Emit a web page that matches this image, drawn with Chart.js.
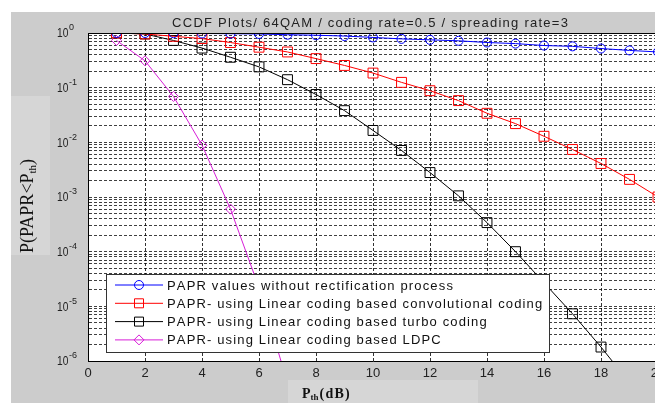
<!DOCTYPE html>
<html>
<head>
<meta charset="utf-8">
<script src="https://cdn.jsdelivr.net/npm/chart.js@4.4.0/dist/chart.umd.min.js"></script>
<style>
    html, body { margin: 0; padding: 0; overflow: hidden; background: #fff; }
    #wrap { width: 680px; height: 403px; }
</style>
</head>
<body>
<div id="wrap"><canvas id="ccdfGraph" width="680" height="403"></canvas></div>
<script>
// Pth (dB) abscisses
const pth = [1, 2, 3, 4, 5, 6, 7, 8, 9, 10, 11, 12, 13, 14, 15, 16, 17, 18, 19, 20];
const pthLdpc = [1, 2, 3, 4, 5, 6, 7];
const pthTurbo = [1, 2, 3, 4, 5, 6, 7, 8, 9, 10, 11, 12, 13, 14, 15, 16, 17, 18, 19];

// valeurs
const paprSansRectif = [1.0, 1.0, 0.99, 0.98, 0.97, 0.96, 0.93, 0.91, 0.88, 0.83, 0.78, 0.75, 0.72, 0.67, 0.64, 0.59, 0.57, 0.52, 0.48, 0.45];
const paprConvolutif = [1.0, 0.96, 0.87, 0.79, 0.67, 0.55, 0.45, 0.34, 0.255, 0.185, 0.125, 0.088, 0.058, 0.034, 0.022, 0.0129, 0.0074, 0.0041, 0.0021, 0.001];
const paprTurbo = [1.0, 0.96, 0.73, 0.53, 0.36, 0.24, 0.14, 0.075, 0.038, 0.0165, 0.0071, 0.0028, 0.00105, 0.00034, 0.0001, 0.000027, 0.0000073, 0.0000018, 0.0000004];
const paprLdpc = [0.73, 0.31, 0.069, 0.0089, 0.0006, 0.000022, 0.0000004];

const titre = 'CCDF Plots/ 64QAM / coding rate=0.5 / spreading rate=3';
const legendLabels = [
    'PAPR values without rectification process',
    'PAPR- using Linear coding based convolutional coding',
    'PAPR- using Linear coding based turbo coding',
    'PAPR- using Linear coding based LDPC'
];

// graduations
const xTicks = [0, 2, 4, 6, 8, 10, 12, 14, 16, 18, 20];
const yTickExps = [0, -1, -2, -3, -4, -5, -6];
const yGrid = [];
yTickExps.forEach(e => {
    for (let m = 1; m <= 9; m++) {
        const v = m * Math.pow(10, e);
        if (v <= 1) yGrid.push(v);
    }
});

const serie = (xs, ys) => xs.map((x, i) => ({ x: x, y: ys[i] }));

// texte espacé (le rendu matlab est plus large)
function texteEspace(ctx, txt, x, y, esp) {
    let cx = x;
    for (const c of txt) {
        ctx.fillText(c, cx, y);
        cx += ctx.measureText(c).width + esp;
    }
    return cx - x - esp;
}

function largeurEspace(ctx, txt, esp) {
    let w = 0;
    for (const c of txt) w += ctx.measureText(c).width + esp;
    return w - esp;
}

// fond gris façon matlab + étiquettes avec exposants / indices
const decorPlugin = {
    id: 'decor',
    beforeDraw(chart) {
        const ctx = chart.ctx;
        const a = chart.chartArea;
        ctx.save();
        ctx.fillStyle = '#ffffff';
        ctx.fillRect(0, 0, chart.width, chart.height);
        ctx.fillStyle = '#cccccc';
        ctx.fillRect(11, 12, chart.width - 11, chart.height - 12);
        ctx.fillStyle = '#d6d6d6';
        ctx.fillRect(11, 96, 39, 159);
        ctx.fillRect(288, 380, 190, 23);
        ctx.fillStyle = '#ffffff';
        ctx.fillRect(a.left, a.top, a.right - a.left, a.bottom - a.top);
        ctx.restore();
    },
    afterDraw(chart) {
        const ctx = chart.ctx;
        const a = chart.chartArea;
        const yScale = chart.scales.y;
        ctx.save();
        // bord du haut
        ctx.strokeStyle = '#000';
        ctx.lineWidth = 1;
        ctx.beginPath();
        ctx.moveTo(a.left, a.top + 0.5);
        ctx.lineTo(a.right, a.top + 0.5);
        ctx.stroke();

        // titre
        ctx.fillStyle = '#222';
        ctx.textAlign = 'left';
        ctx.textBaseline = 'middle';
        ctx.font = '13px "Liberation Sans", Arial, sans-serif';
        const tw = largeurEspace(ctx, titre, 1.25);
        texteEspace(ctx, titre, 370 - tw / 2, 23, 1.25);

        // étiquettes 10^n
        yTickExps.forEach(e => {
            const y = yScale.getPixelForValue(Math.pow(10, e));
            ctx.font = '12px "Liberation Sans", Arial, sans-serif';
            ctx.textBaseline = 'middle';
            ctx.save();
            ctx.translate(57, y + 1);
            ctx.scale(0.85, 1);
            ctx.fillText('10', 0, 0);
            ctx.restore();
            ctx.font = '9px "Liberation Sans", Arial, sans-serif';
            ctx.fillText(String(e), 69, y - 5);
        });

        // titre axe y
        ctx.save();
        ctx.translate(33, 253);
        ctx.rotate(-Math.PI / 2);
        ctx.fillStyle = '#111';
        ctx.textBaseline = 'alphabetic';
        ctx.font = '18px "Liberation Serif", "Times New Roman", serif';
        let t = 'P(PAPR<P';
        ctx.fillText(t, 0, 0);
        let w = ctx.measureText(t).width;
        ctx.font = '11px "Liberation Serif", "Times New Roman", serif';
        ctx.fillText('th', w, 3);
        w += ctx.measureText('th').width;
        ctx.font = '18px "Liberation Serif", "Times New Roman", serif';
        ctx.fillText(')', w, 0);
        ctx.restore();

        // titre axe x
        ctx.fillStyle = '#111';
        ctx.textBaseline = 'alphabetic';
        ctx.font = 'bold 14px "Liberation Serif", "Times New Roman", serif';
        ctx.fillText('P', 302, 398);
        let xw = 302 + ctx.measureText('P').width;
        ctx.font = 'bold 9px "Liberation Serif", "Times New Roman", serif';
        ctx.fillText('th', xw, 400);
        xw += ctx.measureText('th').width + 1;
        ctx.font = 'bold 14px "Liberation Serif", "Times New Roman", serif';
        texteEspace(ctx, '(dB)', xw, 398, 1.2);

        // légende dans la zone de tracé
        const lx = 106, ly = 274, lw = 443, lh = 78;
        ctx.fillStyle = '#fff';
        ctx.fillRect(lx, ly, lw, lh);
        ctx.strokeStyle = '#333';
        ctx.strokeRect(lx + 0.5, ly + 0.5, lw, lh);
        ctx.font = '13px "Liberation Sans", Arial, sans-serif';
        ctx.textBaseline = 'middle';
        chart.data.datasets.forEach((ds, i) => {
            const yy = 285 + i * 18.3;
            ctx.strokeStyle = ds.borderColor;
            ctx.lineWidth = 1;
            ctx.beginPath();
            ctx.moveTo(115, yy);
            ctx.lineTo(163, yy);
            ctx.stroke();
            drawMarker(ctx, ds.pointStyle, 139, yy, ds.borderColor);
            ctx.fillStyle = '#111';
            texteEspace(ctx, legendLabels[i], 167, yy + 1, 1.15);
        });
        ctx.restore();
    }
};

function drawMarker(ctx, style, x, y, color) {
    ctx.save();
    ctx.strokeStyle = color;
    ctx.beginPath();
    if (style === 'circle') {
        ctx.arc(x, y, 4.5, 0, Math.PI * 2);
    } else if (style === 'rect') {
        ctx.rect(x - 4.5, y - 4.5, 9, 9);
    } else {
        ctx.moveTo(x, y - 5);
        ctx.lineTo(x + 5, y);
        ctx.lineTo(x, y + 5);
        ctx.lineTo(x - 5, y);
        ctx.closePath();
    }
    ctx.stroke();
    ctx.restore();
}

const ctx = document.getElementById('ccdfGraph').getContext('2d');

const chart = new Chart(ctx, {
    type: 'line',
    data: {
        datasets: [{
            label: legendLabels[0],
            data: serie(pth, paprSansRectif),
            borderColor: '#0000ff',
            pointStyle: 'circle',
            pointRadius: 4.5
        }, {
            label: legendLabels[1],
            data: serie(pth, paprConvolutif),
            borderColor: '#ff0000',
            pointStyle: 'rect',
            pointRadius: 7
        }, {
            label: legendLabels[2],
            data: serie(pthTurbo, paprTurbo),
            borderColor: '#000000',
            pointStyle: 'rect',
            pointRadius: 7
        }, {
            label: legendLabels[3],
            data: serie(pthLdpc, paprLdpc),
            borderColor: '#d81ed8',
            pointStyle: 'rectRot',
            pointRadius: 5
        }]
    },
    options: {
        responsive: false,
        animation: false,
        devicePixelRatio: 1,
        datasets: {
            line: {
                borderWidth: 1,
                tension: 0,
                fill: false,
                pointBackgroundColor: 'rgba(0,0,0,0)',
                pointBorderWidth: 1
            }
        },
        layout: {
            padding: { left: 11, top: 33, right: 22, bottom: 0 }
        },
        scales: {
            x: {
                type: 'linear',
                min: 0,
                max: 20,
                afterBuildTicks: s => { s.ticks = xTicks.map(v => ({ value: v })); },
                afterFit: s => { s.height = 42; },
                ticks: {
                    color: '#222',
                    padding: 5,
                    maxRotation: 0,
                    font: { family: '"Liberation Sans", Arial, sans-serif', size: 13 }
                },
                grid: { color: 'rgba(0,0,0,0.8)', drawTicks: false },
                border: { display: true, color: '#000', width: 1, dash: [3, 2] }
            },
            y: {
                type: 'logarithmic',
                min: 1e-6,
                max: 1,
                afterBuildTicks: s => { s.ticks = yGrid.map(v => ({ value: v })); },
                afterFit: s => { s.width = 77; },
                ticks: { display: false },
                grid: { color: 'rgba(0,0,0,0.75)', drawTicks: false },
                border: { display: true, color: '#000', width: 1, dash: [3, 2] }
            }
        },
        plugins: {
            legend: { display: false },
            tooltip: { enabled: false },
            title: { display: false }
        }
    },
    plugins: [decorPlugin]
});
</script>
</body>
</html>
